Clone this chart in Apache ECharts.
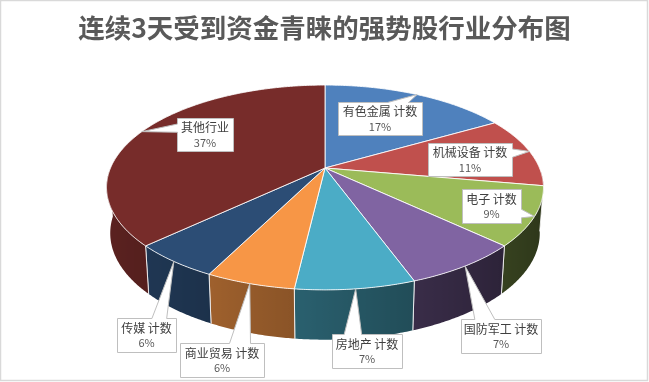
<!DOCTYPE html>
<html><head><meta charset="utf-8">
<script src="https://cdn.jsdelivr.net/npm/echarts@6/dist/echarts.min.js"></script>
<style>html,body{margin:0;padding:0;background:#fff}#c{width:649px;height:382px}</style>
</head><body><div id="c"></div>
<script>
const chartTitle = '连续3天受到资金青睐的强势股行业分布图';
const categories = ['有色金属','机械设备','电子','国防军工','房地产','商业贸易','传媒','其他行业'];
const suffixes = [' 计数',' 计数',' 计数',' 计数',' 计数',' 计数',' 计数',''];
const counts = [9, 6, 5, 4, 4, 3, 3, 20];
const colors = ['#4F81BD','#C0504D','#9BBB59','#8064A2','#4BACC6','#F79646','#2C4D75','#772C2A'];
// label box layout: [centerX, centerY, width, height]
const labelBoxes = [[380,118.5,84,33],[470,159.5,84,33],[491.5,206,59,34],[501,336,80,34],[367,351,70,34],[222,360,84,34],[146.5,335,59,34],[205,134.5,56,33]];

const P = {cx:325, cy:168, A:214.5, B:66.8, c:-0.19, depth:48, shrink:0.983};
const DEG = Math.PI/180;
function proj(theta, r){
  const u = r*Math.sin(theta), v = -r*Math.cos(theta);
  const w = 1 + P.c*v;
  return [P.cx + P.A*u/w, (P.B*v + P.cy)/w];
}
function projB(theta){
  const p = proj(theta,1);
  return [P.cx + P.shrink*(p[0]-P.cx), p[1] + P.depth + 0.04*(p[1]-245)];
}
const total = counts.reduce((a,b)=>a+b,0);
const starts = [], ends = [];
{ let acc = 0; counts.forEach(c => { starts.push(acc/total*2*Math.PI); acc += c; ends.push(acc/total*2*Math.PI); }); }

function hex(c){ return [parseInt(c.slice(1,3),16),parseInt(c.slice(3,5),16),parseInt(c.slice(5,7),16)]; }
function shade(c,f){ const a = hex(c).map(x=>Math.max(0,Math.min(255,Math.round(x*f)))); return 'rgb('+a.join(',')+')'; }
function sideFactor(theta){ return 0.53 - 0.25*Math.sin(theta); }
function arc(s,e,step){ const a=[]; const n=Math.max(2,Math.ceil((e-s)/step)); for(let k=0;k<=n;k++) a.push(s+(e-s)*k/n); return a; }

function renderTop(params, api){
  const i = params.dataIndex;
  const pts = [proj(0,0)];
  arc(starts[i], ends[i], 0.5*DEG).forEach(t => pts.push(proj(t,1)));
  return {type:'polygon', shape:{points:pts}, style:{fill:colors[i], stroke:'rgba(255,255,255,0.85)', lineWidth:1, lineJoin:'round'}};
}
function renderSide(params, api){
  const i = params.dataIndex;
  const a = Math.max(starts[i], 92*DEG), b = Math.min(ends[i], 268*DEG);
  const children = [];
  if (b > a){
    const ts = arc(a, b, 0.5*DEG);
    const top = ts.map(t=>proj(t,1)), bot = ts.map(t=>projB(t));
    const pts = top.concat(bot.slice().reverse());
    const xs = pts.map(p=>p[0]);
    const x0 = Math.min.apply(null,xs), x1 = Math.max.apply(null,xs);
    let stops = ts.map((t,k)=>({offset: Math.max(0,Math.min(1,(top[k][0]-x0)/(x1-x0||1))), color: shade(colors[i], sideFactor(t))}));
    stops.sort((p,q)=>p.offset-q.offset);
    children.push({type:'polygon', shape:{points:pts}, style:{fill: new echarts.graphic.LinearGradient(x0,0,x1,0,stops,true)}});
    [starts[i], ends[i]].forEach(t => {
      if (t >= 92*DEG && t <= 268*DEG){
        const p = proj(t,1), q = projB(t);
        children.push({type:'line', shape:{x1:p[0],y1:p[1],x2:q[0],y2:q[1]}, style:{stroke:'rgba(255,255,255,0.8)', lineWidth:1}});
      }
    });
  }
  return {type:'group', children};
}
function calloutPoints(box, tip){
  const [cx,cy,w,h] = box;
  const l = Math.round(cx-w/2)+0.5, r = Math.round(cx+w/2)+0.5, t = Math.round(cy-h/2)+0.5, b = Math.round(cy+h/2)+0.5;
  const W = r-l, H = b-t;
  if (tip[1] >= t && tip[1] <= b){
    const f = tip[1] < (t+b)/2 ? [1/6,5/12] : [7/12,5/6];
    const y0 = t+H*f[0], y1 = t+H*f[1];
    if (tip[0] < l) return [[l,t],[r,t],[r,b],[l,b],[l,y1],tip,[l,y0]];
    return [[l,t],[r,t],[r,y0],tip,[r,y1],[r,b],[l,b]];
  }
  const f = tip[0] < (l+r)/2 ? [1/6,5/12] : [7/12,5/6];
  const x0 = l+W*f[0], x1 = l+W*f[1];
  if (tip[1] < t) return [[l,t],[x0,t],tip,[x1,t],[r,t],[r,b],[l,b]];
  return [[l,t],[r,t],[r,b],[x1,b],tip,[x0,b],[l,b]];
}
function renderLabel(params, api){
  const i = params.dataIndex;
  const mid = (starts[i]+ends[i])/2;
  const tip = proj(mid,1);
  const box = labelBoxes[i];
  const pct = Math.round(counts[i]/total*100) + '%';
  return {type:'group', children:[
    {type:'polygon', shape:{points:calloutPoints(box, tip)}, style:{fill:'#fff', stroke:'#BFBFBF', lineWidth:1}},
    {type:'text', style:{text:categories[i]+suffixes[i], x:box[0], y:box[1]-7, align:'center', verticalAlign:'middle', font:'12px "Noto Sans CJK SC"', fill:'#404040'}},
    {type:'text', style:{text:pct, x:box[0], y:box[1]+8, align:'center', verticalAlign:'middle', font:'11px "Noto Sans CJK SC"', fill:'#595959'}}
  ]};
}
const chart = echarts.init(document.getElementById('c'), null, {renderer:'canvas'});
const seriesData = counts.map((c,i)=>({name:categories[i], value:c}));
chart.setOption({
  animation:false,
  backgroundColor:'#fff',
  title:{text:chartTitle, left:'center', top:10, textStyle:{fontSize:26.5, fontWeight:'bold', color:'#595959', fontFamily:'"Noto Sans CJK SC"'}},
  graphic:[{type:'rect', shape:{x:0.5,y:0.5,width:647,height:380}, style:{fill:'none', stroke:'#D9D9D9', lineWidth:1.5}, z:100}],
  series:[
    {type:'custom', coordinateSystem:'none', renderItem:renderSide, data:seriesData, z:1, silent:true},
    {type:'custom', coordinateSystem:'none', renderItem:renderTop, data:seriesData, z:2, silent:true},
    {type:'custom', coordinateSystem:'none', renderItem:renderLabel, data:seriesData, z:3, silent:true}
  ]
});
</script></body></html>
